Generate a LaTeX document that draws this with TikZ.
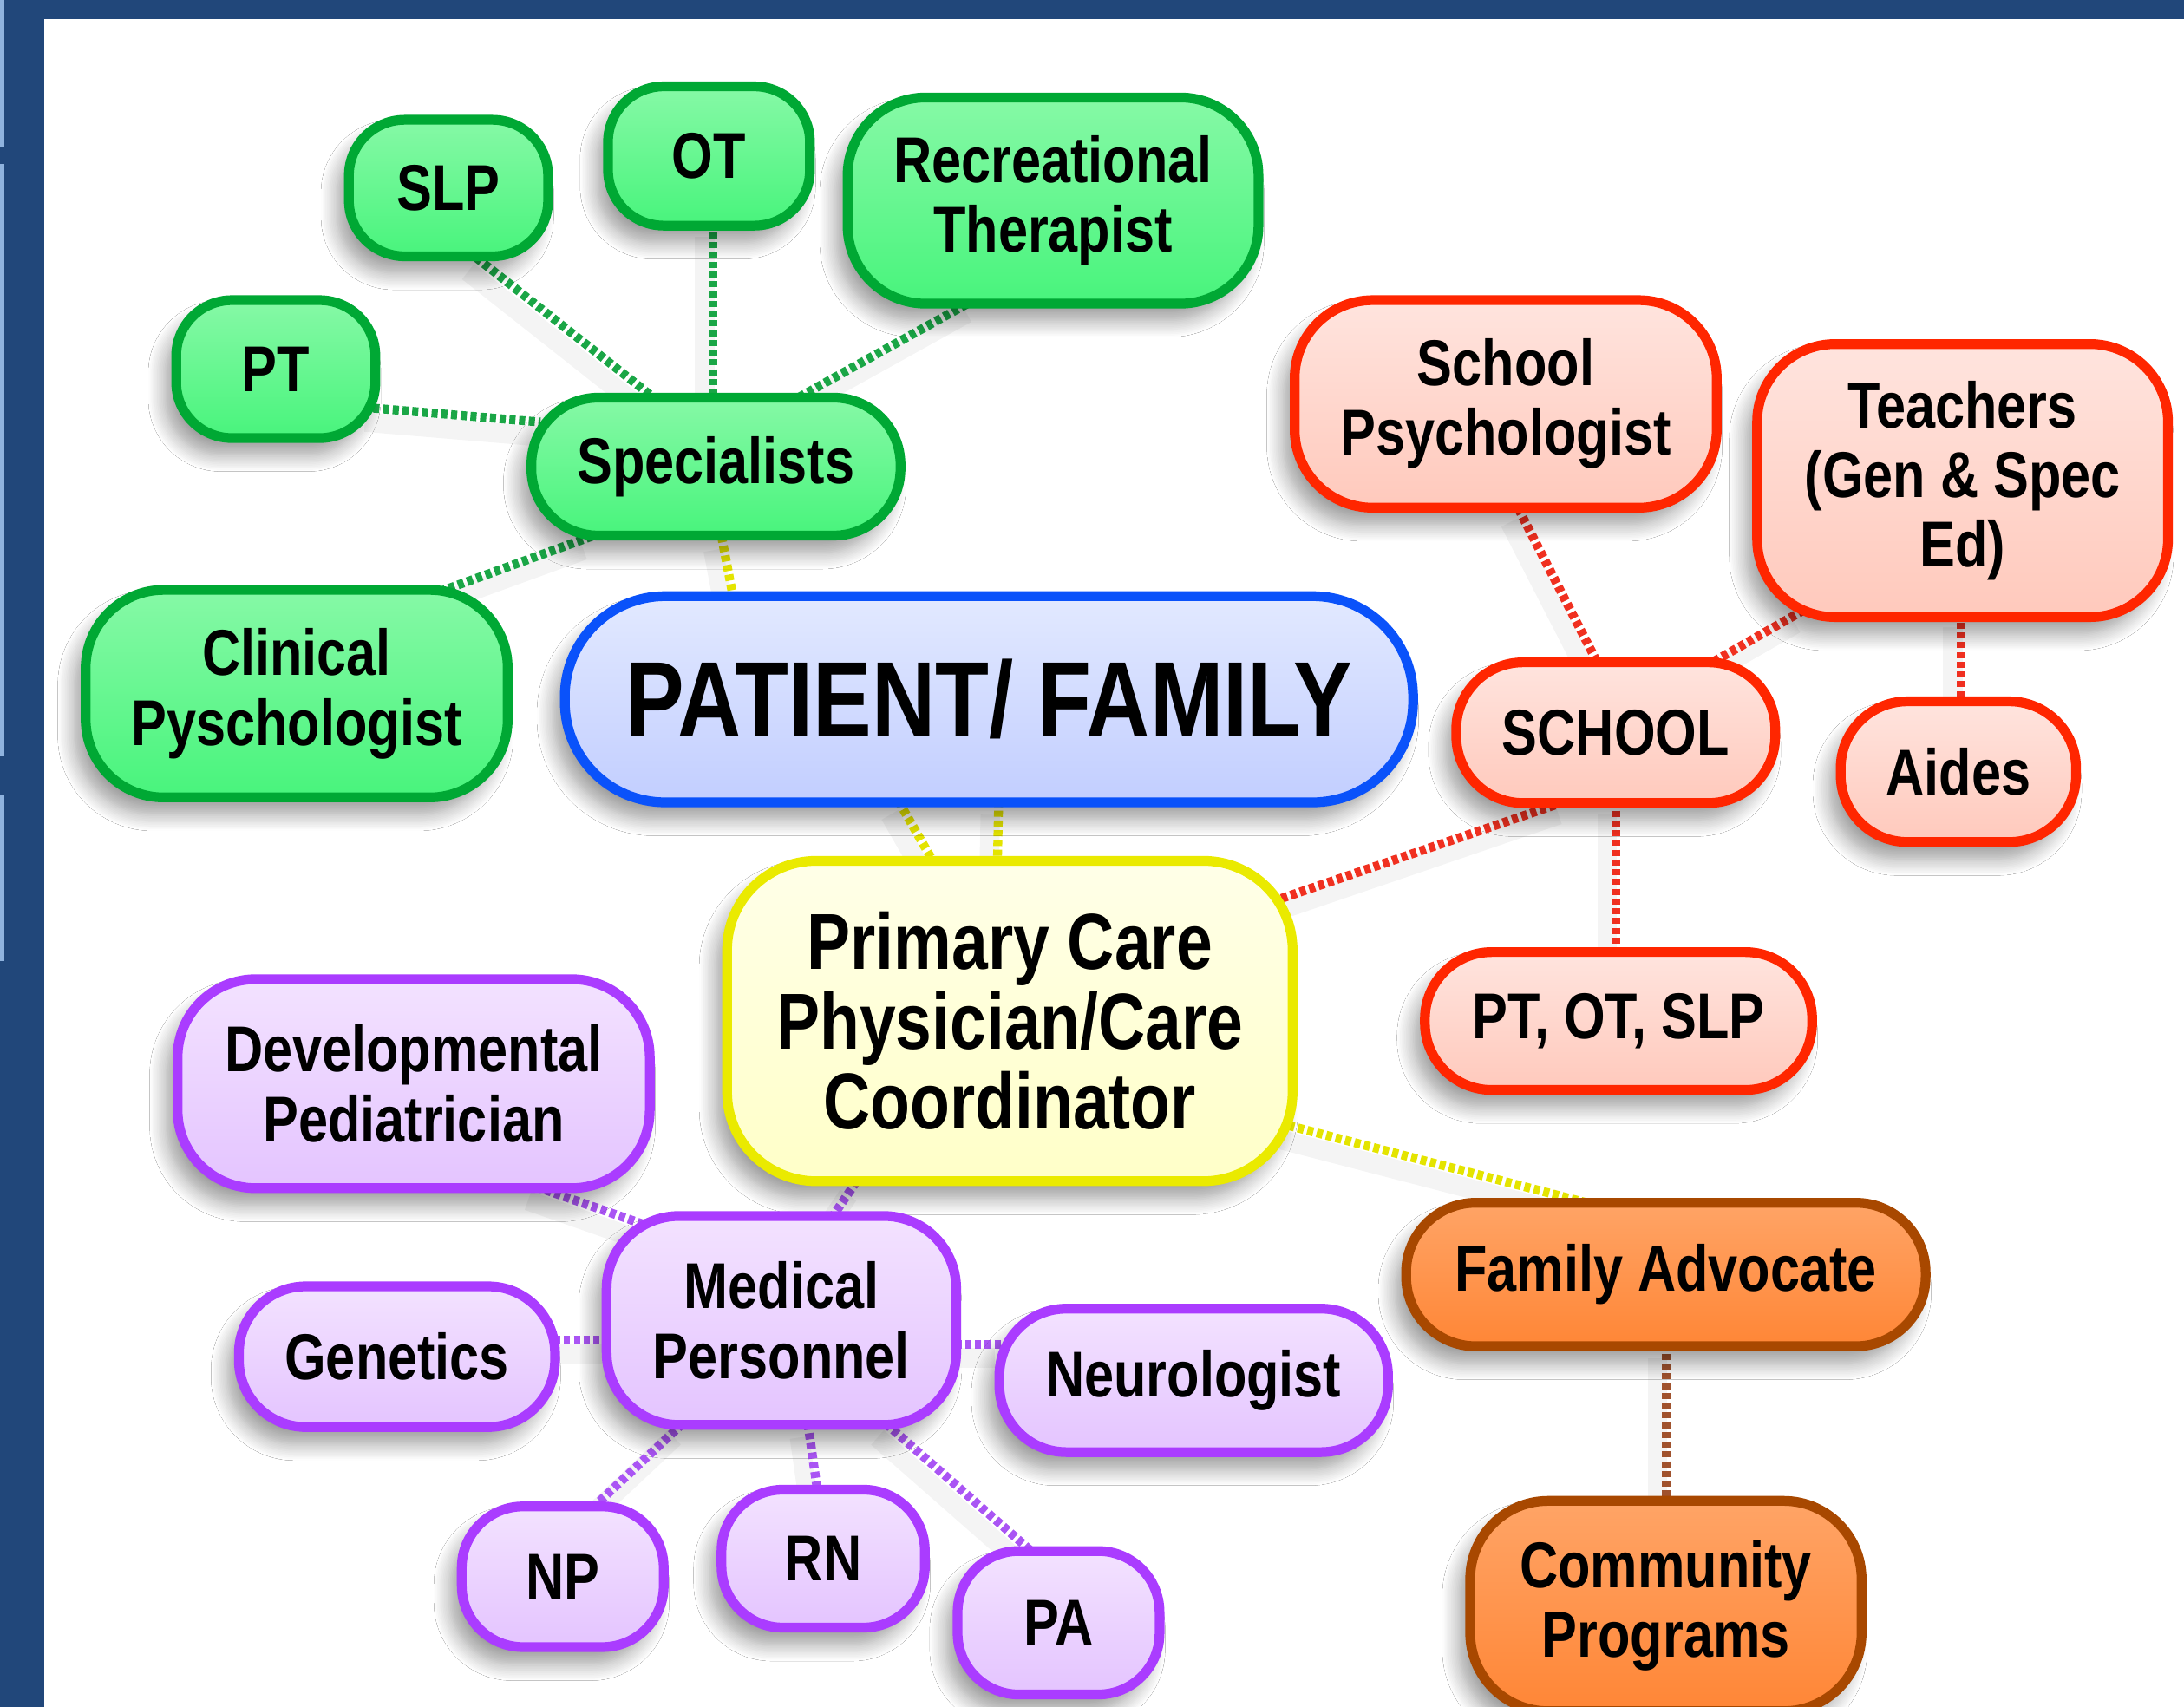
\documentclass[tikz,border=0pt]{standalone}
\usepackage{fontspec}
\newfontfamily\lbl{Liberation Sans}[FakeStretch=0.82]
\usetikzlibrary{shadows.blur,calc,backgrounds}
\definecolor{frameblue}{HTML}{21477A}
\definecolor{framelite}{HTML}{8FB3DE}
\definecolor{grnB}{HTML}{00A834}
\definecolor{grnF}{HTML}{48F47C}
\definecolor{grnT}{HTML}{86F9A6}
\definecolor{redB}{HTML}{FF2600}
\definecolor{redF}{HTML}{FFC9BC}
\definecolor{redT}{HTML}{FFE4DE}
\definecolor{bluB}{HTML}{0A52FA}
\definecolor{bluF}{HTML}{C2CEFF}
\definecolor{bluT}{HTML}{E2E9FF}
\definecolor{yelB}{HTML}{EAEA00}
\definecolor{yelF}{HTML}{FFFFC8}
\definecolor{yelT}{HTML}{FFFFE8}
\definecolor{purB}{HTML}{AA3CFF}
\definecolor{purF}{HTML}{E4C4FF}
\definecolor{purT}{HTML}{F3E2FF}
\definecolor{orgB}{HTML}{A84800}
\definecolor{orgF}{HTML}{FF8636}
\definecolor{orgT}{HTML}{FFA466}
\definecolor{gC}{HTML}{1AA646}
\definecolor{yC}{HTML}{E4E400}
\definecolor{rC}{HTML}{F03020}
\definecolor{pC}{HTML}{AA55F4}
\definecolor{bC}{HTML}{A0522D}
\begin{document}
\begin{tikzpicture}[x=0.5pt,y=-0.5pt,
  box/.style={draw, line width=3.5pt, align=center, inner sep=0pt, text=black,
    font=\lbl\bfseries\fontsize{23.25}{25}\selectfont,
    blur shadow={shadow xshift=-4pt, shadow yshift=-6pt, shadow blur radius=6pt, shadow blur steps=12}},
  sz/.style 2 args={minimum width=#1*0.5pt-3.5pt, minimum height=#2*0.5pt-3.5pt},
  grn/.style={box, draw=grnB, top color=grnT, bottom color=grnF},
  red/.style={box, draw=redB, top color=redT, bottom color=redF},
  blu/.style={box, draw=bluB, top color=bluT, bottom color=bluF},
  yel/.style={box, draw=yelB, top color=yelT, bottom color=yelF},
  pur/.style={box, draw=purB, top color=purT, bottom color=purF},
  org/.style={box, draw=orgB, top color=orgT, bottom color=orgF},
  conn/.style={line width=3.2pt, dash pattern=on 2.2pt off 1.3pt, line cap=butt,
    preaction={draw=black, draw opacity=0.045, solid, line width=7pt, transform canvas={xshift=-3pt, yshift=-5pt}}},
  gl/.style={conn, draw=gC},
  yl/.style={conn, draw=yC},
  rl/.style={conn, draw=rC},
  pl/.style={conn, draw=pC},
  bl/.style={conn, draw=bC}
]
\useasboundingbox (0,0) rectangle (1568,1225.5);

% green group
\node[grn, sz={150}{105}, rounded corners=20pt] (slp) at (322,135) {SLP};
\node[grn, sz={152}{107}, rounded corners=20pt] (ot) at (509,112) {OT};
\node[grn, sz={302}{155}, rounded corners=28pt] (rec) at (756,144) {Recreational\\Therapist};
\node[grn, sz={150}{106}, rounded corners=20pt] (pt) at (198,265) {PT};
\node[grn, sz={272}{106}, rounded corners=24pt] (spec) at (514,335) {Specialists};
\node[grn, sz={310}{156}, rounded corners=28pt] (clin) at (213,498) {Clinical\\Pyschologist};

% centre
\node[blu, sz={616}{155}, rounded corners=36pt, font=\lbl\bfseries\fontsize{38.5}{40}\selectfont] (pat) at (710,502) {PATIENT/ FAMILY};
\node[yel, sz={413}{237}, rounded corners=32pt, font=\lbl\bfseries\fontsize{28.5}{28.6}\selectfont] (pcp) at (725,733) {Primary Care\\Physician/Care\\Coordinator};

% red group
\node[red, sz={310}{156}, rounded corners=28pt] (spsy) at (1081,290) {School\\Psychologist};
\node[red, sz={302}{203}, rounded corners=28pt] (teach) at (1409,345) {Teachers\\(Gen \& Spec\\Ed)};
\node[red, sz={236}{108}, rounded corners=24pt] (school) at (1160,526) {SCHOOL};
\node[red, sz={176}{108}, rounded corners=24pt] (aides) at (1406,554) {Aides};
\node[red, sz={285}{106}, rounded corners=24pt] (ptot) at (1162,733) {PT, OT, SLP};

% purple group
\node[pur, sz={346}{157}, rounded corners=28pt] (dev) at (297,778) {Developmental\\Pediatrician};
\node[pur, sz={258}{157}, rounded corners=26pt] (med) at (561,948) {Medical\\Personnel};
\node[pur, sz={234}{108}, rounded corners=24pt] (gen) at (285,974) {Genetics};
\node[pur, sz={286}{110}, rounded corners=24pt] (neuro) at (857,991) {Neurologist};
\node[pur, sz={152}{108}, rounded corners=22pt] (np) at (404,1132) {NP};
\node[pur, sz={153}{106}, rounded corners=22pt] (rn) at (591,1119) {RN};
\node[pur, sz={152}{110}, rounded corners=22pt] (pa) at (760,1165) {PA};

% orange group
\node[org, sz={380}{110}, rounded corners=25pt] (fam) at (1196,915) {Family Advocate};
\node[org, sz={288}{158}, rounded corners=28pt] (comm) at (1196,1153) {Community\\Programs};

\begin{scope}[on background layer]
  \fill[frameblue] (0,0) rectangle (1568,1225.5);
  \fill[white] (32,14) rectangle (1568,1225.5);
  \draw[framelite, line width=1.5pt] (1.5,0) -- (1.5,106) (1.5,118) -- (1.5,543) (1.5,571) -- (1.5,690);
  % green connectors
  \draw[gl] ($(slp)+(20,50)$) -- ($(spec)+(-39,-45)$);
  \draw[gl] ($(ot)+(3,48)$) -- ($(spec)+(-2,-45)$);
  \draw[gl] ($(rec)+(-56,71)$) -- ($(spec)+(51,-45)$);
  \draw[gl] ($(pt)+(70,28)$) -- ($(spec)+(-126,-32)$);
  \draw[gl] ($(spec)+(-89,50)$) -- ($(clin)+(102,-73)$);
  % yellow connectors
  \draw[yl] ($(spec)+(4,50)$) -- ($(pat)+(-183,-70)$);
  \draw[yl] ($(pat)+(-65,73)$) -- ($(pcp)+(-53,-111)$);
  \draw[yl] ($(pat)+(7,73)$) -- ($(pcp)+(-9,-111)$);
  \draw[yl] ($(pcp)+(200,75)$) -- ($(fam)+(-51,-50)$);
  % red connectors
  \draw[rl] ($(pcp)+(195,-88)$) -- ($(school)+(-35,49)$);
  \draw[rl] ($(spsy)+(9,75)$) -- ($(school)+(-12,-48)$);
  \draw[rl] ($(teach)+(-114,93)$) -- ($(school)+(65,-48)$);
  \draw[rl] ($(teach)+(-1,95)$) -- ($(aides)+(2,-49)$);
  \draw[rl] ($(school)+(0,49)$) -- ($(ptot)+(-2,-47)$);
  % purple connectors
  \draw[pl] ($(dev)+(88,74)$) -- ($(med)+(-96,-68)$);
  \draw[pl] ($(pcp)+(-110,115)$) -- ($(med)+(35,-72)$);
  \draw[pl] ($(gen)+(113,-12)$) -- ($(med)+(-123,14)$);
  \draw[pl] ($(med)+(125,17)$) -- ($(neuro)+(-137,-26)$);
  \draw[pl] ($(med)+(-71,74)$) -- ($(np)+(21,-49)$);
  \draw[pl] ($(med)+(19,74)$) -- ($(rn)+(-4,-48)$);
  \draw[pl] ($(med)+(75,74)$) -- ($(pa)+(-18,-50)$);
  % brown connector
  \draw[bl] ($(fam)+(0,50)$) -- ($(comm)+(0,-73)$);
\end{scope}
\end{tikzpicture}
\end{document}
